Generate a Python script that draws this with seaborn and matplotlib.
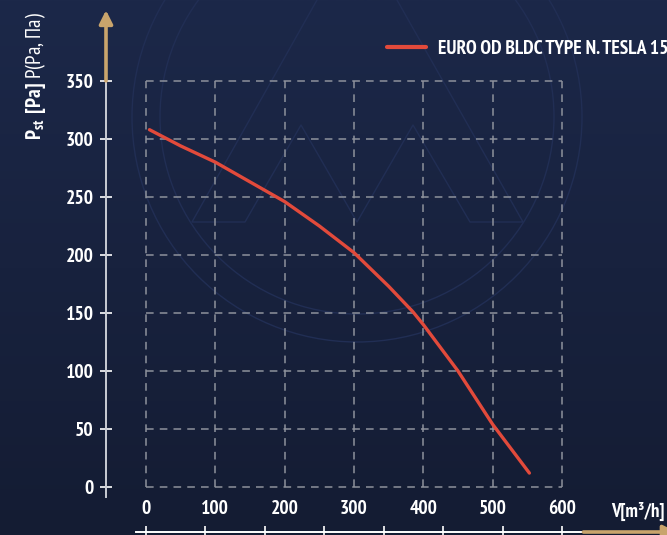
import matplotlib
matplotlib.use('Agg')  # render straight to PNG
import matplotlib.pyplot as plt
from matplotlib.colors import LinearSegmentedColormap
from matplotlib.patches import Circle

import seaborn as sns
import numpy as np
import pandas as pd


# Fan curve data
airflow = [5, 50, 100, 150, 200, 250, 300, 350, 385, 400, 450, 500, 553]
pressure = [308, 294, 280, 263, 246, 225, 202, 173, 151, 140, 100, 54, 12]
x_ticks = [0, 100, 200, 300, 400, 500, 600]
y_ticks = [0, 50, 100, 150, 200, 250, 300, 350]
series_name = 'EURO OD BLDC TYPE N. TESLA 150'

# Colours
BG_TOP = '#1c2849'
BG_BOTTOM = '#141c33'
GRID = '#8e929c'
CURVE = '#e24a3b'
GOLD = '#c9a46c'
AXIS = '#c9ccd4'
FONT = 'PT Sans Narrow'

sns.set_theme(style='dark')
plt.rcParams['font.family'] = [FONT, 'DejaVu Sans']
plt.rcParams['mathtext.fontset'] = 'custom'
plt.rcParams['mathtext.rm'] = FONT
plt.rcParams['mathtext.bf'] = FONT + ':bold'

W, H = 667, 535
fig = plt.figure(figsize=(W / 100, H / 100), dpi=100)

# Background gradient
bg = fig.add_axes([0, 0, 1, 1])
bg_cmap = LinearSegmentedColormap.from_list('bg', [BG_BOTTOM, BG_TOP])
bg.imshow(np.linspace(0, 1, 256).reshape(-1, 1), aspect='auto', cmap=bg_cmap,
          origin='lower', extent=[0, W, H, 0])
bg.set_xlim(0, W)
bg.set_ylim(H, 0)
bg.axis('off')

# Faint watermark logo
WM = '#212e54'
bg.add_patch(Circle((357, 117), 225, fill=False, ec=WM, lw=1.0))
bg.add_patch(Circle((357, 117), 197, fill=False, ec=WM, lw=1.0))
bg.plot([317, 192, 245, 301, 357, 413, 470, 523, 397],
        [0, 222, 222, 125, 222, 125, 222, 222, 0], color=WM, lw=1.0)

# Main axes, placed so the axis lines sit where they are in the reference
ax = fig.add_axes([106 / W, 3 / H, 554 / W, 524 / H])
ax.patch.set_alpha(0)
ax.set_xlim(-57.7, 741.4)
ax.set_ylim(-38.8, 412.9)

# Dashed grid box
ax.vlines(x_ticks, 0, 350, colors=GRID, linestyles=(0, (5, 4)), lw=1.1)
ax.hlines(y_ticks, 0, 600, colors=GRID, linestyles=(0, (5, 4)), lw=1.1)

# Curve
df = pd.DataFrame({'airflow': airflow, 'pressure': pressure})
sns.lineplot(data=df, x='airflow', y='pressure', color=CURVE, lw=2.4,
             label=series_name, ax=ax)

# Spines
for side in ['top', 'right']:
    ax.spines[side].set_visible(False)
ax.spines['left'].set_color(AXIS)
ax.spines['left'].set_linewidth(1.4)
ax.spines['left'].set_bounds(-9, 350)
ax.spines['bottom'].set_color('white')
ax.spines['bottom'].set_linewidth(1.4)
ax.spines['bottom'].set_bounds(-15, 631)

# Y ticks
ax.set_yticks(y_ticks)
ax.set_yticklabels([str(v) for v in y_ticks])
ax.tick_params(axis='y', direction='inout', length=8, width=1.2, color='white',
               labelcolor='white', labelsize=14, pad=5, left=True)
for lbl in ax.get_yticklabels():
    lbl.set_fontweight('bold')

# Bottom axis: evenly spaced tick marks without labels
ax.set_xticks(np.linspace(0, 600, 8))
ax.set_xticklabels([])
ax.tick_params(axis='x', direction='inout', length=8, width=1.2, color='white', bottom=True)

# Tick labels for the flow axis sit above the bottom line
sec = ax.secondary_xaxis((532 - 497) / 524)
sec.set_xticks(x_ticks)
sec.set_xticklabels([str(v) for v in x_ticks])
sec.tick_params(length=0, labelcolor='white', labelsize=14, pad=2)
for lbl in sec.get_xticklabels():
    lbl.set_fontweight('bold')
sec.spines['bottom'].set_visible(False)

ax.set_xlabel('')
ax.set_ylabel('')

# Gold arrows on both axes
ax.annotate('', xy=(0, 411), xycoords=('axes fraction', 'data'),
            xytext=(0, 350), textcoords=('axes fraction', 'data'),
            arrowprops=dict(arrowstyle='-|>', color=GOLD, lw=2.6, mutation_scale=20,
                            shrinkA=0, shrinkB=0), annotation_clip=False)
ax.annotate('', xy=(1.03, 0), xycoords=('axes fraction', 'axes fraction'),
            xytext=(631, 0), textcoords=('data', 'axes fraction'),
            arrowprops=dict(arrowstyle='-|>', color=GOLD, lw=2.6, mutation_scale=20,
                            shrinkA=0, shrinkB=0), annotation_clip=False)

# Axis titles
fig.text(665 / W, 1 - 511 / H, 'V[m³/h]', color='white', fontsize=13.5,
         fontweight='bold', ha='right', va='center')
fig.text(35 / W, 1 - 140 / H, r'$\mathbf{P_{st}\ [Pa]}$ P(Pa, Па)', color='white',
         fontsize=15, rotation=90, ha='center', va='bottom')

# Legend
leg = ax.legend(loc='center left', bbox_to_anchor=(387 / W, 1 - 49 / H),
                bbox_transform=fig.transFigure, frameon=False, borderpad=0,
                borderaxespad=0, handlelength=2.0, handletextpad=0.6,
                prop={'family': FONT, 'size': 14, 'weight': 'bold'})
for txt in leg.get_texts():
    txt.set_color('white')
for line in leg.get_lines():
    line.set_linewidth(3)

plt.savefig('out.png', dpi=100)
plt.close()
